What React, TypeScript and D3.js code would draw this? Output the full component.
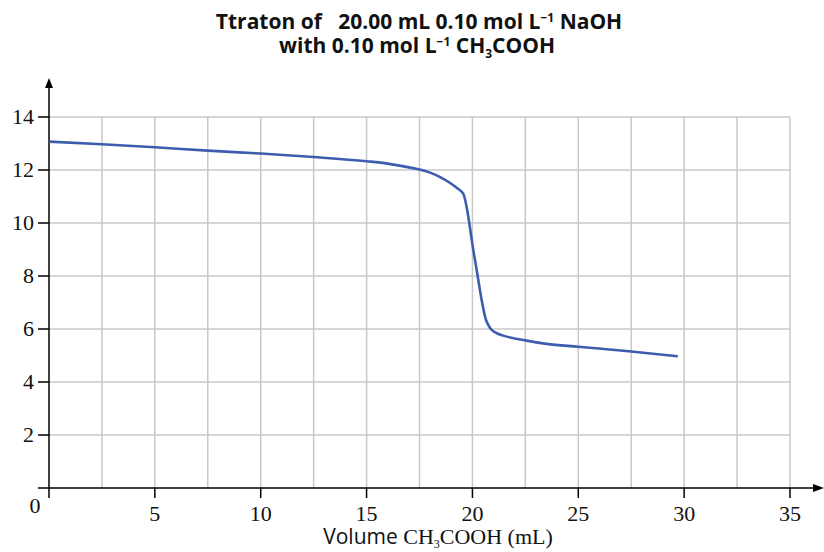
import React from "react";
import * as d3 from "d3";

const volumes = [0, 2.5, 5, 7.5, 10, 12.5, 15, 16, 17, 17.5, 18, 18.5, 19, 19.3, 19.57, 20.1, 20.66, 20.85, 21.1, 21.5, 22.5, 23.5, 25, 27.5, 29.7];
const phValues = [13.07, 12.97, 12.86, 12.73, 12.62, 12.49, 12.33, 12.24, 12.1, 12.02, 11.9, 11.72, 11.48, 11.3, 11.1, 8.7, 6.3, 6.02, 5.86, 5.74, 5.57, 5.44, 5.33, 5.15, 4.97];
const xTicks = [5, 10, 15, 20, 25, 30, 35];
const yTicks = [2, 4, 6, 8, 10, 12, 14];
const xGrid = [2.5, 5, 7.5, 10, 12.5, 15, 17.5, 20, 22.5, 25, 27.5, 30, 32.5, 35];

export default function App() {
  const x = d3.scaleLinear().domain([0, 35]).range([49, 790]);
  const y = d3.scaleLinear().domain([0, 14]).range([488, 117]);
  const pts: [number, number][] = volumes.map((v, i) => [v, phValues[i]]);
  const line = d3
    .line<[number, number]>()
    .x((d) => x(d[0]))
    .y((d) => y(d[1]))
    .curve(d3.curveMonotoneX);
  const serif = "'Liberation Serif', 'Times New Roman', serif";
  const sans = "'Open Sans', 'Noto Sans', sans-serif";
  return (
    <svg width={824} height={552} style={{ position: "absolute", left: 0, top: 0, background: "#fff" }}>
      <rect width={824} height={552} fill="#fff" />
      {/* title */}
      <text x={419} y={29} textAnchor="middle" fontFamily={sans} fontWeight="bold" fontSize={21} fill="#111" style={{ whiteSpace: "pre" }}>
        {"Ttraton of   20.00 mL 0.10 mol L"}
        <tspan fontSize={12} dy={-7}>{"\u22121"}</tspan>
        <tspan dy={7}>{" NaOH"}</tspan>
      </text>
      <text x={417} y={53} textAnchor="middle" fontFamily={sans} fontWeight="bold" fontSize={21} fill="#111" style={{ whiteSpace: "pre" }}>
        {"with 0.10 mol L"}
        <tspan fontSize={12} dy={-7}>{"\u22121"}</tspan>
        <tspan dy={7}>{" CH"}</tspan>
        <tspan fontSize={12} dy={5}>3</tspan>
        <tspan dy={-5}>COOH</tspan>
      </text>
      {/* grid */}
      {xGrid.map((g) => (
        <line key={"gx" + g} x1={x(g)} x2={x(g)} y1={y(14)} y2={y(0)} stroke="#c8c8c8" strokeWidth={1.5} />
      ))}
      {yTicks.map((g) => (
        <line key={"gy" + g} x1={x(0)} x2={x(35)} y1={y(g)} y2={y(g)} stroke="#c8c8c8" strokeWidth={1.5} />
      ))}
      {/* axes */}
      <line x1={x(0)} x2={x(0)} y1={498} y2={86} stroke="#000" strokeWidth={1.5} />
      <path d={`M${x(0) - 4},${88} L${x(0)},${78} L${x(0) + 4},${88} Z`} fill="#000" />
      <line x1={38} x2={814} y1={y(0)} y2={y(0)} stroke="#000" strokeWidth={1.5} />
      <path d={`M${813},${y(0) - 4} L${824},${y(0)} L${813},${y(0) + 4} Z`} fill="#000" />
      {yTicks.map((t) => (
        <g key={"yt" + t}>
          <line x1={38} x2={x(0)} y1={y(t)} y2={y(t)} stroke="#000" strokeWidth={1.5} />
          <text x={34} y={y(t) + 7} textAnchor="end" fontFamily={serif} fontSize={22} fill="#111">
            {t}
          </text>
        </g>
      ))}
      {xTicks.map((t) => (
        <g key={"xt" + t}>
          <line x1={x(t)} x2={x(t)} y1={y(0)} y2={y(0) + 10} stroke="#000" strokeWidth={1.5} />
          <text x={x(t)} y={521} textAnchor="middle" fontFamily={serif} fontSize={22} fill="#111">
            {t}
          </text>
        </g>
      ))}
      <text x={35} y={513} textAnchor="middle" fontFamily={serif} fontSize={22} fill="#111">0</text>
      {/* x label */}
      <text x={438} y={544} textAnchor="middle" fontSize={22} fill="#111" style={{ whiteSpace: "pre" }}>
        <tspan fontFamily={sans} fontSize={21}>{"Volume "}</tspan>
        <tspan fontFamily={serif}>CH</tspan>
        <tspan fontFamily={serif} fontSize={12} dy={4}>3</tspan>
        <tspan fontFamily={serif} dy={-4}>COOH (mL)</tspan>
      </text>
      {/* curve */}
      <path d={line(pts) || ""} fill="none" stroke="#3c5dae" strokeWidth={2.6} strokeLinejoin="round" />
    </svg>
  );
}
